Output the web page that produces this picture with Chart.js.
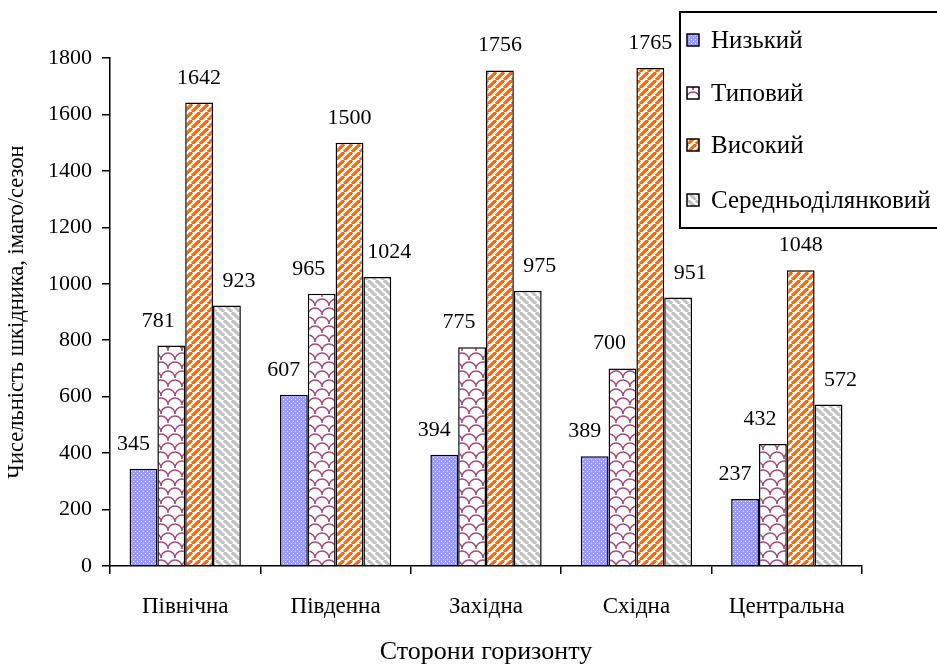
<!DOCTYPE html>
<html>
<head>
<meta charset="utf-8">
<script src="https://cdn.jsdelivr.net/npm/chart.js@4/dist/chart.umd.min.js"></script>
<style>
  body { margin: 0; background: #fff; }
  #wrap { width: 937px; height: 666px; }
</style>
</head>
<body>
<div id="wrap"><canvas id="chart" width="937" height="666"></canvas></div>
<script>
const categories = ["Північна", "Південна", "Західна", "Східна", "Центральна"];
const seriesNames = ["Низький", "Типовий", "Високий", "Середньоділянковий"];
const low = [345, 607, 394, 389, 237];
const typical = [781, 965, 775, 700, 432];
const high = [1642, 1500, 1756, 1765, 1048];
const average = [923, 1024, 975, 951, 572];
const yTicks = [0, 200, 400, 600, 800, 1000, 1200, 1400, 1600, 1800];

const FONT = "'Liberation Serif', 'Times New Roman', serif";

function makeTile(w, h, draw) {
    let c = document.createElement("canvas");
    c.width = w;
    c.height = h;
    let g = c.getContext("2d");
    draw(g, w, h);
    return document.createElement("canvas").getContext("2d").createPattern(c, "repeat");
}

// blue with white dots
let dotsPattern = makeTile(4, 4, function (g) {
    g.fillStyle = "#9999ff";
    g.fillRect(0, 0, 4, 4);
    g.fillStyle = "#e6e6ff";
    g.fillRect(1, 1, 1, 1);
    g.fillRect(3, 3, 1, 1);
});

// purple scallops on white
let scalePattern = makeTile(14, 18, function (g) {
    g.fillStyle = "#ffffff";
    g.fillRect(0, 0, 14, 18);
    g.strokeStyle = "#a8487c";
    g.lineWidth = 1.5;
    let arcs = [[7, 9], [0, 18], [14, 18]];
    for (let a of arcs) {
        g.beginPath();
        g.arc(a[0], a[1], 7, Math.PI, 0, false);
        g.stroke();
    }
});

function stripes(color, up) {
    return makeTile(8, 8, function (g, s) {
        g.fillStyle = "#ffffff";
        g.fillRect(0, 0, s, s);
        g.strokeStyle = color;
        g.lineWidth = 3.2;
        for (let k = -1; k <= 1; k++) {
            g.beginPath();
            if (up) {
                g.moveTo(k * s, s);
                g.lineTo(k * s + s, 0);
            } else {
                g.moveTo(k * s, 0);
                g.lineTo(k * s + s, s);
            }
            g.stroke();
        }
    });
}
let orangePattern = stripes("#ff6600", true);
let greyPattern = stripes("#c0c0c0", false);

const fills = [dotsPattern, scalePattern, orangePattern, greyPattern];
const values = [low, typical, high, average];
const labelShift = [-10, -13, 0, 12];

let datasets = [];
for (let i = 0; i < values.length; i++) {
    datasets.push({
        label: seriesNames[i],
        data: values[i],
        backgroundColor: fills[i],
        borderColor: "#000000",
        borderWidth: 1.5,
        borderSkipped: "bottom",
        categoryPercentage: 0.74,
        barPercentage: 1.0
    });
}

// values above bars
const valueLabels = {
    id: "valueLabels",
    afterDatasetsDraw(chart) {
        let ctx = chart.ctx;
        ctx.save();
        ctx.font = "22px " + FONT;
        ctx.fillStyle = "#000";
        ctx.textAlign = "center";
        ctx.textBaseline = "alphabetic";
        chart.data.datasets.forEach(function (ds, i) {
            chart.getDatasetMeta(i).data.forEach(function (bar, j) {
                ctx.fillText(String(ds.data[j]), bar.x + labelShift[i], bar.y - 19);
            });
        });
        ctx.restore();
    }
};

// boxed legend in the top right corner
const boxLegend = {
    id: "boxLegend",
    afterDraw(chart) {
        let ctx = chart.ctx;
        ctx.save();
        ctx.fillStyle = "#fff";
        ctx.fillRect(680, 12, 258, 216);
        ctx.strokeStyle = "#000";
        ctx.lineWidth = 2;
        ctx.strokeRect(680, 12, 258, 216);
        ctx.font = "25px " + FONT;
        ctx.textBaseline = "middle";
        let rows = [40, 93, 145, 200];
        for (let i = 0; i < seriesNames.length; i++) {
            ctx.fillStyle = fills[i];
            ctx.fillRect(687, rows[i] - 6, 12, 12);
            ctx.lineWidth = 1.5;
            ctx.strokeRect(687, rows[i] - 6, 12, 12);
            ctx.fillStyle = "#000";
            ctx.fillText(seriesNames[i], 711, rows[i] + 1);
        }
        ctx.restore();
    }
};

new Chart(document.getElementById("chart"), {
    type: "bar",
    data: { labels: categories, datasets: datasets },
    plugins: [valueLabels, boxLegend],
    options: {
        responsive: false,
        animation: false,
        layout: { padding: { top: 58, right: 75, left: 0, bottom: 0 } },
        plugins: {
            legend: { display: false },
            tooltip: { enabled: false }
        },
        scales: {
            x: {
                grid: { display: true, drawOnChartArea: false, offset: true, color: "#000", lineWidth: 1.5, tickLength: 8 },
                border: { display: true, color: "#000", width: 1.5 },
                ticks: { color: "#000", font: { family: FONT, size: 23 }, padding: 19, maxRotation: 0 },
                title: { display: true, text: "Сторони горизонту", color: "#000", font: { family: FONT, size: 26, lineHeight: 1 }, padding: { top: 10, bottom: 1 } },
                afterFit: function (scale) { scale.height = 100; }
            },
            y: {
                min: 0,
                max: 1800,
                afterBuildTicks: function (scale) {
                    scale.ticks = yTicks.map(function (v) { return { value: v }; });
                },
                grid: { display: true, drawOnChartArea: false, color: "#000", lineWidth: 1.5, tickLength: 8 },
                border: { display: true, color: "#000", width: 1.5 },
                ticks: {
                    color: "#000",
                    font: { family: FONT, size: 22 },
                    padding: 10,
                    callback: function (v) { return String(v); }
                },
                title: { display: true, text: "Чисельність шкідника, імаго/сезон", color: "#000", font: { family: FONT, size: 22.5 }, padding: { top: 4, bottom: 4 } },
                afterFit: function (scale) { scale.width = 110; }
            }
        }
    }
});
</script>
</body>
</html>
